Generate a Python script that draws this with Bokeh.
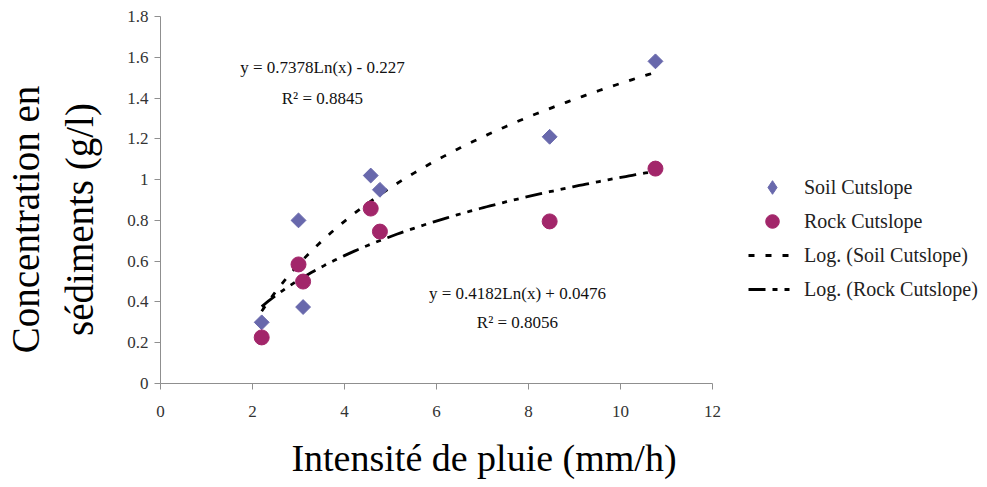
import numpy as np
from bokeh.plotting import figure
from bokeh.models import (Range1d, FixedTicker, NumeralTickFormatter, Legend,
                          LegendItem, ColumnDataSource)
from bokeh.core.properties import value
from bokeh.embed import file_html
from bokeh.resources import INLINE

# Rainfall intensity (mm/h) and sediment concentration (g/l)
intensity = [2.2, 3.0, 3.1, 4.57, 4.77, 8.46, 10.76]
soil_conc = [0.30, 0.80, 0.375, 1.02, 0.95, 1.21, 1.58]
rock_conc = [0.226, 0.584, 0.50, 0.858, 0.745, 0.795, 1.054]

# Logarithmic trend coefficients: y = a*ln(x) + b
soil_fit = {"a": 0.7378, "b": -0.227, "r2": 0.8845}
rock_fit = {"a": 0.4182, "b": 0.0476, "r2": 0.8056}

x_ticks = [0, 2, 4, 6, 8, 10, 12]
y_ticks = [0, 0.2, 0.4, 0.6, 0.8, 1.0, 1.2, 1.4, 1.6, 1.8]

SERIF = "Liberation Serif"
SOIL_COLOR = "#6868AC"
ROCK_COLOR = "#A2266A"
NBSP = "\u00a0"

p = figure(frame_width=552, frame_height=367,
           min_border_left=160, min_border_right=275,
           min_border_top=16, min_border_bottom=104,
           x_range=Range1d(0, 12), y_range=Range1d(0, 1.8),
           output_backend="svg", toolbar_location=None)
p.outline_line_color = None
p.xgrid.visible = False
p.ygrid.visible = False

for ax in (p.xaxis[0], p.yaxis[0]):
    ax.axis_line_color = "#8f8f8f"
    ax.major_tick_line_color = "#8f8f8f"
    ax.minor_tick_line_color = None
    ax.major_tick_in = 0
    ax.major_tick_out = 6
    ax.major_label_text_font = SERIF
    ax.major_label_text_font_size = "17px"
    ax.major_label_text_color = "#333333"
    ax.axis_label_text_font = SERIF
    ax.axis_label_text_font_style = "normal"
    ax.axis_label_text_color = "black"

p.xaxis.ticker = FixedTicker(ticks=x_ticks)
p.yaxis.ticker = FixedTicker(ticks=y_ticks)
p.xaxis.formatter = NumeralTickFormatter(format="0")
p.yaxis.formatter = NumeralTickFormatter(format="0.[0]")
p.xaxis.major_label_standoff = 16
p.yaxis.major_label_standoff = 6

# Axis titles (non-breaking spaces pad each title off the frame centre)
p.xaxis.axis_label = NBSP * 10 + "Intensit\u00e9 de pluie (mm/h)"
p.xaxis.axis_label_standoff = 17
p.xaxis.axis_label_text_font_size = "38px"

p.yaxis.axis_label = ("Concentration en" + NBSP * 4 + "\n"
                      + "s\u00e9diments (g/l)" + NBSP * 4)
p.yaxis.axis_label_standoff = 23
p.yaxis.axis_label_text_font_size = "39px"
p.yaxis.axis_label_text_line_height = 1.27

# Trend lines over the observed intensity range
xs = np.linspace(min(intensity), max(intensity), 120)
soil_trend = soil_fit["a"] * np.log(xs) + soil_fit["b"]
rock_trend = rock_fit["a"] * np.log(xs) + rock_fit["b"]

r_soil_t = p.line(xs, soil_trend, line_color="black", line_width=2.8,
                  line_dash="6 11")
r_rock_t = p.line(xs, rock_trend, line_color="black", line_width=2.8,
                  line_dash="17 7 5 7 5 7")

src = ColumnDataSource(dict(x=intensity, soil=soil_conc, rock=rock_conc))
# Diamond key glyph (legend markers are drawn unrotated), hidden under the
# rotated squares in the plot area
soil_key = p.scatter("x", "soil", source=src, marker="diamond", size=9,
                     fill_color=SOIL_COLOR, line_color=SOIL_COLOR)
r_soil = p.scatter("x", "soil", source=src, marker="square", angle=np.pi / 4,
                   size=10.5, fill_color=SOIL_COLOR, line_color=SOIL_COLOR)
r_rock = p.scatter("x", "rock", source=src, marker="circle", size=15,
                   fill_color=ROCK_COLOR, line_color=ROCK_COLOR)

# Trend equations
eq_src = ColumnDataSource(dict(
    x=[3.52, 3.52, 7.76, 7.76],
    y=[1.552, 1.398, 0.443, 0.297],
    t=["y = %.4fLn(x) - %.3f" % (soil_fit["a"], -soil_fit["b"]),
       "R\u00b2 = %.4f" % soil_fit["r2"],
       "y = %.4fLn(x) + %.4f" % (rock_fit["a"], rock_fit["b"]),
       "R\u00b2 = %.4f" % rock_fit["r2"]]))
p.text("x", "y", text="t", source=eq_src, text_font=value(SERIF),
       text_font_size="17px", text_align="center",
       text_baseline="alphabetic", text_color="#111111")

legend = Legend(items=[
    LegendItem(label="Soil Cutslope", renderers=[soil_key]),
    LegendItem(label="Rock Cutslope", renderers=[r_rock]),
    LegendItem(label="Log. (Soil Cutslope)", renderers=[r_soil_t]),
    LegendItem(label="Log. (Rock Cutslope)", renderers=[r_rock_t]),
], location=(36, 77))
legend.border_line_color = None
legend.background_fill_alpha = 0
legend.padding = 0
legend.margin = 0
legend.spacing = 0
legend.glyph_width = 48
legend.glyph_height = 34
legend.label_height = 34
legend.label_standoff = 8
legend.label_text_font = SERIF
legend.label_text_font_size = "20px"
legend.label_text_color = "#222222"
p.add_layout(legend, "right")

open("out.html", "w").write(file_html(p, INLINE))
